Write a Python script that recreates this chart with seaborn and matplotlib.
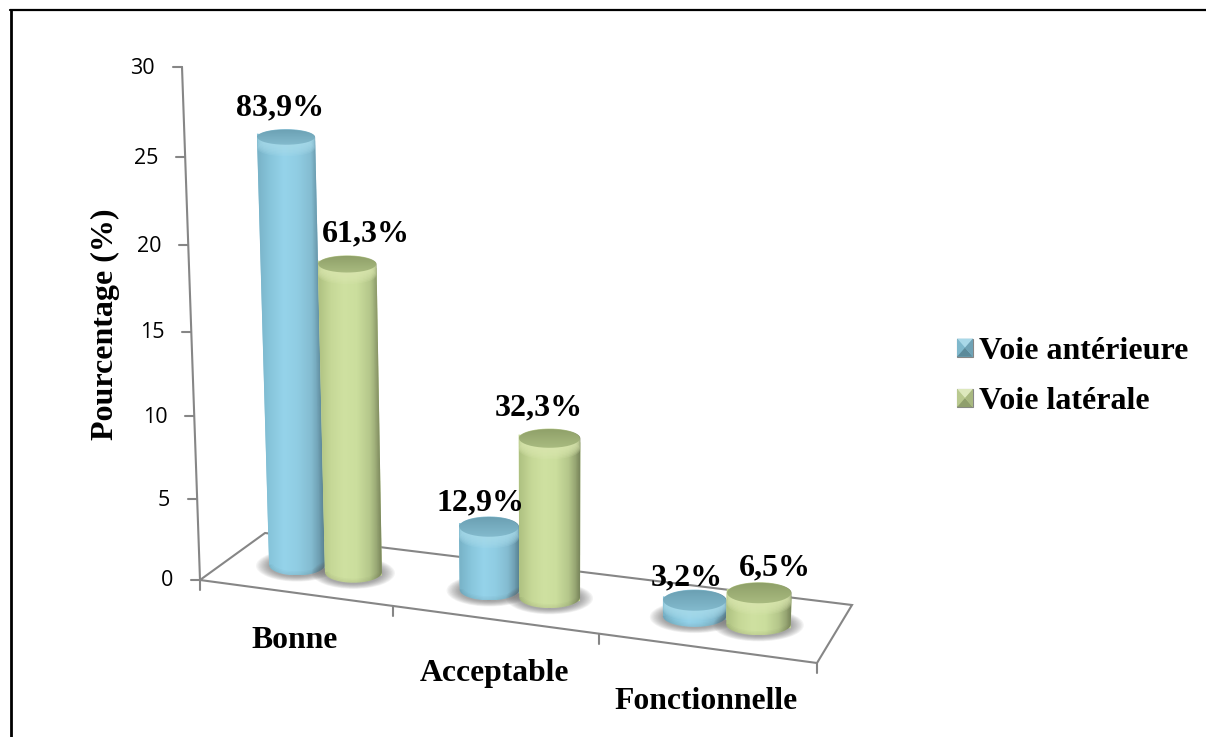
import numpy as np
import pandas as pd
import seaborn as sns
import matplotlib
matplotlib.use("Agg")
import matplotlib.pyplot as plt
from matplotlib.colors import LinearSegmentedColormap
from matplotlib.lines import Line2D
from matplotlib.patches import Ellipse, Patch, PathPatch, Polygon
from matplotlib.path import Path
from matplotlib.transforms import IdentityTransform, Transform

W, H = 1206, 737

categories = ["Bonne", "Acceptable", "Fonctionnelle"]
series_names = ["Voie antérieure", "Voie latérale"]
anterieure = [26, 4, 1]
laterale = [19, 10, 2]
anterieure_labels = ["83,9%", "12,9%", "3,2%"]
laterale_labels = ["61,3%", "32,3%", "6,5%"]
y_ticks = [0, 5, 10, 15, 20, 25, 30]

# (dx, dy) in pixels from the top of each bar to its label
anterieure_shift = [(-6, -29), (-9, -24), (-8, -23)]
laterale_shift = [(19, -30), (-11, -31), (16, -25)]
category_drop = [48, 54, 53]

SERIF = dict(family="Liberation Serif", weight="bold", color="black")
GREY = "#868686"
STYLES = [
    dict(base="#86c2d8", cap="#6a9fb2", cap_low="#83bacd", rim="#a9dcec",
         ramp=["#78b2c7", "#88c6dc", "#95d3ea", "#90cde3", "#84bcd1", "#5f8a9c"],
         facets=["#a9d8e8", "#7fb8cc", "#5b8a9a", "#6fa2b5"]),
    dict(base="#c5d896", cap="#8e9f68", cap_low="#a9bb80", rim="#dbe8b0",
         ramp=["#aec181", "#c6d897", "#cfe1a1", "#cbde9d", "#b5c78b", "#7f8c60"],
         facets=["#dde8bd", "#b9c98f", "#8f9f6c", "#a8b880"]),
]


class ChartProjection(Transform):
    """Category/value -> display pixels, on a plane of the tilted 3D floor."""
    input_dims = 2
    output_dims = 2

    def __init__(self, floor_depth):
        super().__init__()
        self.floor_depth = floor_depth

    def transform_non_affine(self, values):
        values = np.asarray(values, dtype=float)
        t = (values[:, 0] + 0.5) / 3
        v = values[:, 1]
        d = self.floor_depth
        left = 200 + 65 * d
        span = 617 - 30 * d
        px = left + (span - 57) * t + 57 * t * t
        base_y = 580 - 47 * d + (83 - 11 * d) * (px - left) / span
        h = (16.02 * v + 0.036 * v * v) * (1 - 0.06 * d)
        px = px + (px - 560) * h / 10260
        return np.column_stack([px, H - (base_y - h)])


FRONT = ChartProjection(0.0)
MID = ChartProjection(0.5)
BACK = ChartProjection(1.0)
PIXELS = IdentityTransform()


def half_ellipse(cx, cy, rx, ry, start, stop):
    angle = np.linspace(start, stop, 40)
    return np.column_stack([cx + rx * np.cos(angle), cy + ry * np.sin(angle)])


def radius_y(cy):
    # caps flatten towards the top of the picture
    return 8 + ((H - cy) - 130) * 0.006


def draw_cylinder(ax, rect, style, z):
    x0, w, v = rect.get_x(), rect.get_width(), rect.get_height()
    bl, br = MID.transform([[x0, 0], [x0 + w, 0]])
    tl, tr = MID.transform([[x0, v], [x0 + w, v]])
    bc, tc = (bl + br) / 2, (tl + tr) / 2
    rx_b, rx_t = (br[0] - bl[0]) / 2, (tr[0] - tl[0]) / 2
    ry_b, ry_t = radius_y(bc[1]), radius_y(tc[1])

    # soft shadow on the floor
    for grow in np.linspace(13, 1, 10):
        ax.add_patch(Ellipse((bc[0], bc[1] - 1), 2 * (rx_b + grow), 2 * (ry_b + grow * 0.4),
                             facecolor="#5f5f5f", edgecolor="none", alpha=0.07,
                             transform=PIXELS, zorder=z))

    # silhouette and shaded body
    outline = np.vstack([half_ellipse(bc[0], bc[1], rx_b, ry_b, np.pi, 2 * np.pi),
                         half_ellipse(tc[0], tc[1], rx_t, ry_t, 0, np.pi)])
    body = Path(outline)
    rect.set_transform(MID)
    rect.set_facecolor(style["base"])
    rect.set_edgecolor("none")
    rect.set_clip_on(False)
    rect.set_zorder(z + 1)

    cmap = LinearSegmentedColormap.from_list("body", style["ramp"])
    im = ax.imshow(np.linspace(0, 1, 128)[None, :], cmap=cmap, aspect="auto",
                   extent=[outline[:, 0].min(), outline[:, 0].max(),
                           outline[:, 1].min(), outline[:, 1].max()],
                   transform=PIXELS, zorder=z + 2, interpolation="bilinear")
    im.set_clip_path(body, PIXELS)

    # darker lip along the bottom
    for shift in (3, 2, 1):
        lip = PathPatch(body, facecolor="none", edgecolor="black", alpha=0.02,
                        lw=shift * 2, transform=PIXELS, zorder=z + 3)
        ax.add_patch(lip)
        lip.set_clip_path(body, PIXELS)

    # bevel under the cap, then the cap itself
    drop = max(2, min(11, 0.6 * (tc[1] - bc[1])))
    for shift in np.linspace(drop, 1, 8):
        rim = Ellipse((tc[0], tc[1] - shift), 2 * rx_t, 2 * ry_t, facecolor=style["rim"],
                      edgecolor="none", alpha=0.2, transform=PIXELS, zorder=z + 4)
        ax.add_patch(rim)
        rim.set_clip_path(body, PIXELS)
    cap_cmap = LinearSegmentedColormap.from_list("cap", [style["cap"], style["cap_low"]])
    cap = ax.imshow(np.linspace(0, 1, 32)[:, None], cmap=cap_cmap, aspect="auto",
                    extent=[tc[0] - rx_t, tc[0] + rx_t, tc[1] - ry_t, tc[1] + ry_t],
                    transform=PIXELS, zorder=z + 5, interpolation="bilinear")
    cap.set_clip_path(Path(half_ellipse(tc[0], tc[1], rx_t - 0.5, ry_t - 0.5, 0, 2 * np.pi)), PIXELS)
    return tc


sns.set_theme(style="white")
fig = plt.figure(figsize=(W / 100, H / 100), dpi=100, facecolor="white")
ax = fig.add_axes([0, 0, 1, 1])

df = pd.DataFrame({
    "categorie": categories * 2,
    "effectif": anterieure + laterale,
    "voie": [series_names[0]] * 3 + [series_names[1]] * 3,
})
sns.barplot(data=df, x="categorie", y="effectif", hue="voie", order=categories,
            hue_order=series_names, palette=[s["base"] for s in STYLES],
            width=0.6, gap=0, saturation=1, errorbar=None, legend=False, ax=ax)
ax.set_axis_off()

# floor
corners = np.vstack([FRONT.transform([[-0.5, 0]]), BACK.transform([[-0.5, 0]]),
                     BACK.transform([[2.5, 0]]), FRONT.transform([[2.5, 0]])])
ax.add_patch(Polygon(corners, closed=True, facecolor="white", edgecolor=GREY, lw=1.5,
                     transform=PIXELS, zorder=1))

# value axis
ax.plot([-0.5] * len(y_ticks), y_ticks, color=GREY, lw=1.5, transform=FRONT,
        scalex=False, scaley=False, zorder=2)
for v in y_ticks:
    px, py = FRONT.transform([[-0.5, v]])[0]
    ax.plot([px - 9, px], [py, py], color=GREY, lw=1.5, transform=PIXELS,
            scalex=False, scaley=False, zorder=2)
    ax.text(px - 27, py - 1, str(v), ha="right", va="center", family="Open Sans", fontsize=15.5,
            color="black", transform=PIXELS)

# category axis ticks and labels
for edge in [-0.5, 0.5, 1.5, 2.5]:
    px, py = FRONT.transform([[edge, 0]])[0]
    ax.plot([px, px], [py, py - 10], color=GREY, lw=1.5, transform=PIXELS,
            scalex=False, scaley=False, zorder=2)
for i, name in enumerate(categories):
    px, py = FRONT.transform([[i, 0]])[0]
    ax.text(px, py - category_drop[i], name, ha="center", va="center", fontsize=22.8,
            transform=PIXELS, **SERIF)

ax.text(105, H - 324, "Pourcentage (%)", rotation=90, ha="center", va="center",
        fontsize=23, transform=PIXELS, **SERIF)

# cylinders, left to right, green in front of blue
value_labels = [anterieure_labels, laterale_labels]
label_shifts = [anterieure_shift, laterale_shift]
z = 10
for i in range(len(categories)):
    for s, container in enumerate(ax.containers):
        tc = draw_cylinder(ax, container[i], STYLES[s], z)
        dx, dy = label_shifts[s][i]
        ax.text(tc[0] + dx, tc[1] - dy, value_labels[s][i], ha="center", va="center",
                fontsize=23, transform=PIXELS, zorder=100, **SERIF)
        z += 10

# legend
handles = [Patch(facecolor=s["base"], edgecolor=GREY, lw=0.8, label=n)
           for s, n in zip(STYLES, series_names)]
leg = ax.legend(handles=handles, loc="upper left", bbox_to_anchor=(957, H - 337),
                bbox_transform=PIXELS, frameon=False, borderpad=0, borderaxespad=0,
                handlelength=0.5, handleheight=0.5, handletextpad=0.2, labelspacing=0.67,
                labelcolor="black",
                prop=dict(family="Liberation Serif", weight="bold", size=23))
leg.set_zorder(200)

ax.set_xlim(-0.5, 2.5)
ax.set_ylim(0, 30)

# bevelled legend keys
fig.canvas.draw()
for handle, style in zip(leg.legend_handles, STYLES):
    box = handle.get_window_extent()
    x0, x1, y0, y1 = box.x0, box.x1, box.y0, box.y1
    c = ((x0 + x1) / 2, (y0 + y1) / 2)
    faces = [[(x0, y1), (x1, y1), c], [(x0, y0), (x0, y1), c],
             [(x0, y0), (x1, y0), c], [(x1, y0), (x1, y1), c]]
    for face, colour in zip(faces, style["facets"]):
        ax.add_patch(Polygon(face, closed=True, facecolor=colour, edgecolor="none",
                             transform=PIXELS, zorder=210))

# outer frame of the scanned page
fig.add_artist(Line2D([10, W], [H - 10, H - 10], color="black", lw=1.6, transform=PIXELS))
fig.add_artist(Line2D([10.5, 10.5], [0, H - 10], color="black", lw=2.0, transform=PIXELS))

fig.savefig("out.png", dpi=100, facecolor="white")
